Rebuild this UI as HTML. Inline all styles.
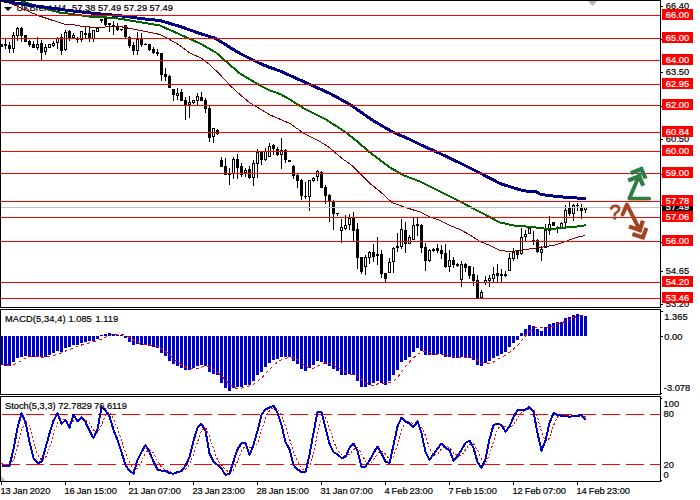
<!DOCTYPE html>
<html lang="en"><head><meta charset="utf-8"><title>UKBrent H4 chart</title>
<style>
html,body{margin:0;padding:0;background:#fff;}
body{width:700px;height:500px;overflow:hidden;}
svg{display:block;}
text{font-family:"Liberation Sans",sans-serif;font-size:9.3px;fill:#000;stroke:#000;stroke-width:0.2px;}
.w{fill:#fff;stroke:#fff;}
.crisp{shape-rendering:crispEdges;}
</style></head><body>
<svg width="700" height="500" viewBox="0 0 700 500">
<rect x="0" y="0" width="700" height="500" fill="#fff"/>
<g class="crisp" id="candles">
<rect x="1" y="44" width="1" height="3" fill="#000"/><rect x="0" y="44" width="3" height="3" fill="#000"/>
<rect x="5" y="39" width="1" height="10" fill="#000"/><rect x="4" y="44" width="3" height="2" fill="#000"/>
<rect x="9" y="42" width="1" height="11" fill="#000"/><rect x="8" y="45" width="3" height="4" fill="#000"/>
<rect x="13" y="32" width="1" height="21" fill="#000"/><rect x="12" y="35" width="3" height="14" fill="#000"/><rect x="13" y="36" width="1" height="12" fill="#fff"/>
<rect x="17" y="27" width="1" height="14" fill="#000"/><rect x="16" y="28" width="3" height="8" fill="#000"/><rect x="17" y="29" width="1" height="6" fill="#fff"/>
<rect x="21" y="27" width="1" height="15" fill="#000"/><rect x="20" y="28" width="3" height="8" fill="#000"/>
<rect x="25" y="35" width="1" height="7" fill="#000"/><rect x="24" y="35" width="3" height="7" fill="#000"/>
<rect x="29" y="40" width="1" height="7" fill="#000"/><rect x="28" y="41" width="3" height="4" fill="#000"/>
<rect x="33" y="41" width="1" height="7" fill="#000"/><rect x="32" y="44" width="3" height="4" fill="#000"/>
<rect x="37" y="37" width="1" height="13" fill="#000"/><rect x="36" y="44" width="3" height="4" fill="#000"/><rect x="37" y="45" width="1" height="2" fill="#fff"/>
<rect x="41" y="40" width="1" height="21" fill="#000"/><rect x="40" y="43" width="3" height="10" fill="#000"/>
<rect x="45" y="44" width="1" height="11" fill="#000"/><rect x="44" y="47" width="3" height="5" fill="#000"/><rect x="45" y="48" width="1" height="3" fill="#fff"/>
<rect x="49" y="44" width="1" height="4" fill="#000"/><rect x="48" y="44" width="3" height="4" fill="#000"/><rect x="49" y="45" width="1" height="2" fill="#fff"/>
<rect x="53" y="41" width="1" height="6" fill="#000"/><rect x="52" y="43" width="3" height="3" fill="#000"/><rect x="53" y="44" width="1" height="1" fill="#fff"/>
<rect x="57" y="37" width="1" height="12" fill="#000"/><rect x="56" y="38" width="3" height="5" fill="#000"/><rect x="57" y="39" width="1" height="3" fill="#fff"/>
<rect x="61" y="34" width="1" height="21" fill="#000"/><rect x="60" y="37" width="3" height="14" fill="#000"/>
<rect x="65" y="30" width="1" height="21" fill="#000"/><rect x="64" y="32" width="3" height="18" fill="#000"/><rect x="65" y="33" width="1" height="16" fill="#fff"/>
<rect x="69" y="30" width="1" height="11" fill="#000"/><rect x="68" y="31" width="3" height="7" fill="#000"/>
<rect x="73" y="33" width="1" height="5" fill="#000"/><rect x="72" y="35" width="3" height="3" fill="#000"/><rect x="73" y="36" width="1" height="1" fill="#fff"/>
<rect x="77" y="37" width="1" height="6" fill="#000"/><rect x="76" y="39" width="3" height="1" fill="#000"/>
<rect x="81" y="31" width="1" height="11" fill="#000"/><rect x="80" y="31" width="3" height="9" fill="#000"/><rect x="81" y="32" width="1" height="7" fill="#fff"/>
<rect x="85" y="27" width="1" height="11" fill="#000"/><rect x="84" y="33" width="3" height="2" fill="#000"/>
<rect x="89" y="27" width="1" height="15" fill="#000"/><rect x="88" y="33" width="3" height="5" fill="#000"/>
<rect x="93" y="30" width="1" height="12" fill="#000"/><rect x="92" y="30" width="3" height="9" fill="#000"/><rect x="93" y="31" width="1" height="7" fill="#fff"/>
<rect x="97" y="27" width="1" height="5" fill="#000"/><rect x="96" y="28" width="3" height="4" fill="#000"/><rect x="97" y="29" width="1" height="2" fill="#fff"/>
<rect x="101" y="19" width="1" height="4" fill="#000"/><rect x="100" y="19" width="3" height="2" fill="#000"/>
<rect x="105" y="18" width="1" height="8" fill="#000"/><rect x="104" y="18" width="3" height="7" fill="#000"/>
<rect x="109" y="23" width="1" height="9" fill="#000"/><rect x="108" y="23" width="3" height="2" fill="#000"/>
<rect x="113" y="21" width="1" height="14" fill="#000"/><rect x="112" y="25" width="3" height="1" fill="#000"/>
<rect x="117" y="23" width="1" height="8" fill="#000"/><rect x="116" y="26" width="3" height="4" fill="#000"/>
<rect x="121" y="29" width="1" height="2" fill="#000"/><rect x="120" y="29" width="3" height="1" fill="#000"/>
<rect x="125" y="25" width="1" height="13" fill="#000"/><rect x="124" y="25" width="3" height="12" fill="#000"/>
<rect x="129" y="36" width="1" height="12" fill="#000"/><rect x="128" y="37" width="3" height="9" fill="#000"/>
<rect x="133" y="42" width="1" height="13" fill="#000"/><rect x="132" y="45" width="3" height="6" fill="#000"/>
<rect x="137" y="32" width="1" height="23" fill="#000"/><rect x="136" y="39" width="3" height="12" fill="#000"/><rect x="137" y="40" width="1" height="10" fill="#fff"/>
<rect x="141" y="33" width="1" height="14" fill="#000"/><rect x="140" y="39" width="3" height="6" fill="#000"/>
<rect x="145" y="43" width="1" height="2" fill="#000"/><rect x="144" y="44" width="3" height="1" fill="#000"/>
<rect x="149" y="44" width="1" height="7" fill="#000"/><rect x="148" y="44" width="3" height="6" fill="#000"/>
<rect x="153" y="47" width="1" height="7" fill="#000"/><rect x="152" y="49" width="3" height="4" fill="#000"/>
<rect x="157" y="49" width="1" height="7" fill="#000"/><rect x="156" y="52" width="3" height="2" fill="#000"/>
<rect x="161" y="53" width="1" height="28" fill="#000"/><rect x="160" y="53" width="3" height="22" fill="#000"/>
<rect x="165" y="68" width="1" height="13" fill="#000"/><rect x="164" y="74" width="3" height="3" fill="#000"/>
<rect x="169" y="75" width="1" height="13" fill="#000"/><rect x="168" y="76" width="3" height="12" fill="#000"/>
<rect x="173" y="89" width="1" height="12" fill="#000"/><rect x="172" y="89" width="3" height="6" fill="#000"/>
<rect x="177" y="88" width="1" height="12" fill="#000"/><rect x="176" y="93" width="3" height="3" fill="#000"/><rect x="177" y="94" width="1" height="1" fill="#fff"/>
<rect x="181" y="89" width="1" height="12" fill="#000"/><rect x="180" y="92" width="3" height="9" fill="#000"/>
<rect x="185" y="97" width="1" height="23" fill="#000"/><rect x="184" y="100" width="3" height="5" fill="#000"/>
<rect x="189" y="96" width="1" height="22" fill="#000"/><rect x="188" y="102" width="3" height="3" fill="#000"/><rect x="189" y="103" width="1" height="1" fill="#fff"/>
<rect x="193" y="100" width="1" height="4" fill="#000"/><rect x="192" y="100" width="3" height="3" fill="#000"/><rect x="193" y="101" width="1" height="1" fill="#fff"/>
<rect x="197" y="93" width="1" height="12" fill="#000"/><rect x="196" y="96" width="3" height="5" fill="#000"/><rect x="197" y="97" width="1" height="3" fill="#fff"/>
<rect x="201" y="92" width="1" height="9" fill="#000"/><rect x="200" y="97" width="3" height="4" fill="#000"/>
<rect x="205" y="98" width="1" height="15" fill="#000"/><rect x="204" y="100" width="3" height="9" fill="#000"/>
<rect x="209" y="106" width="1" height="36" fill="#000"/><rect x="208" y="108" width="3" height="30" fill="#000"/>
<rect x="213" y="128" width="1" height="15" fill="#000"/><rect x="212" y="128" width="3" height="9" fill="#000"/><rect x="213" y="129" width="1" height="7" fill="#fff"/>
<rect x="217" y="129" width="1" height="6" fill="#000"/><rect x="216" y="130" width="3" height="4" fill="#000"/>
<rect x="221" y="157" width="1" height="10" fill="#000"/><rect x="220" y="160" width="3" height="7" fill="#000"/>
<rect x="225" y="158" width="1" height="17" fill="#000"/><rect x="224" y="166" width="3" height="9" fill="#000"/>
<rect x="229" y="168" width="1" height="17" fill="#000"/><rect x="228" y="173" width="3" height="2" fill="#000"/>
<rect x="233" y="157" width="1" height="22" fill="#000"/><rect x="232" y="159" width="3" height="15" fill="#000"/><rect x="233" y="160" width="1" height="13" fill="#fff"/>
<rect x="237" y="154" width="1" height="25" fill="#000"/><rect x="236" y="159" width="3" height="9" fill="#000"/>
<rect x="241" y="163" width="1" height="14" fill="#000"/><rect x="240" y="166" width="3" height="9" fill="#000"/>
<rect x="245" y="168" width="1" height="9" fill="#000"/><rect x="244" y="170" width="3" height="3" fill="#000"/><rect x="245" y="171" width="1" height="1" fill="#fff"/>
<rect x="249" y="166" width="1" height="13" fill="#000"/><rect x="248" y="169" width="3" height="9" fill="#000"/>
<rect x="253" y="160" width="1" height="26" fill="#000"/><rect x="252" y="163" width="3" height="15" fill="#000"/><rect x="253" y="164" width="1" height="13" fill="#fff"/>
<rect x="257" y="149" width="1" height="29" fill="#000"/><rect x="256" y="152" width="3" height="12" fill="#000"/><rect x="257" y="153" width="1" height="10" fill="#fff"/>
<rect x="261" y="152" width="1" height="13" fill="#000"/><rect x="260" y="152" width="3" height="8" fill="#000"/>
<rect x="265" y="148" width="1" height="13" fill="#000"/><rect x="264" y="151" width="3" height="9" fill="#000"/><rect x="265" y="152" width="1" height="7" fill="#fff"/>
<rect x="269" y="143" width="1" height="14" fill="#000"/><rect x="268" y="146" width="3" height="11" fill="#000"/><rect x="269" y="147" width="1" height="9" fill="#fff"/>
<rect x="273" y="144" width="1" height="11" fill="#000"/><rect x="272" y="145" width="3" height="4" fill="#000"/>
<rect x="277" y="147" width="1" height="9" fill="#000"/><rect x="276" y="149" width="3" height="6" fill="#000"/>
<rect x="281" y="138" width="1" height="31" fill="#000"/><rect x="280" y="150" width="3" height="5" fill="#000"/><rect x="281" y="151" width="1" height="3" fill="#fff"/>
<rect x="285" y="149" width="1" height="14" fill="#000"/><rect x="284" y="150" width="3" height="10" fill="#000"/>
<rect x="289" y="160" width="1" height="2" fill="#000"/><rect x="288" y="160" width="3" height="2" fill="#000"/>
<rect x="293" y="165" width="1" height="14" fill="#000"/><rect x="292" y="166" width="3" height="10" fill="#000"/>
<rect x="297" y="174" width="1" height="14" fill="#000"/><rect x="296" y="175" width="3" height="6" fill="#000"/>
<rect x="301" y="179" width="1" height="21" fill="#000"/><rect x="300" y="180" width="3" height="16" fill="#000"/>
<rect x="305" y="182" width="1" height="17" fill="#000"/><rect x="304" y="196" width="3" height="1" fill="#000"/>
<rect x="309" y="180" width="1" height="31" fill="#000"/><rect x="308" y="180" width="3" height="17" fill="#000"/><rect x="309" y="181" width="1" height="15" fill="#fff"/>
<rect x="313" y="177" width="1" height="5" fill="#000"/><rect x="312" y="178" width="3" height="3" fill="#000"/><rect x="313" y="179" width="1" height="1" fill="#fff"/>
<rect x="317" y="170" width="1" height="11" fill="#000"/><rect x="316" y="171" width="3" height="6" fill="#000"/><rect x="317" y="172" width="1" height="4" fill="#fff"/>
<rect x="321" y="171" width="1" height="17" fill="#000"/><rect x="320" y="172" width="3" height="16" fill="#000"/>
<rect x="325" y="185" width="1" height="19" fill="#000"/><rect x="324" y="187" width="3" height="9" fill="#000"/>
<rect x="329" y="194" width="1" height="28" fill="#000"/><rect x="328" y="195" width="3" height="6" fill="#000"/>
<rect x="333" y="200" width="1" height="30" fill="#000"/><rect x="332" y="201" width="3" height="13" fill="#000"/>
<rect x="337" y="213" width="1" height="3" fill="#000"/><rect x="336" y="213" width="3" height="1" fill="#000"/>
<rect x="341" y="219" width="1" height="24" fill="#000"/><rect x="340" y="227" width="3" height="4" fill="#000"/><rect x="341" y="228" width="1" height="2" fill="#fff"/>
<rect x="345" y="215" width="1" height="15" fill="#000"/><rect x="344" y="225" width="3" height="4" fill="#000"/><rect x="345" y="226" width="1" height="2" fill="#fff"/>
<rect x="349" y="214" width="1" height="16" fill="#000"/><rect x="348" y="218" width="3" height="7" fill="#000"/><rect x="349" y="219" width="1" height="5" fill="#fff"/>
<rect x="353" y="212" width="1" height="30" fill="#000"/><rect x="352" y="218" width="3" height="13" fill="#000"/>
<rect x="357" y="223" width="1" height="46" fill="#000"/><rect x="356" y="229" width="3" height="29" fill="#000"/>
<rect x="361" y="257" width="1" height="17" fill="#000"/><rect x="360" y="257" width="3" height="15" fill="#000"/>
<rect x="365" y="255" width="1" height="20" fill="#000"/><rect x="364" y="257" width="3" height="10" fill="#000"/><rect x="365" y="258" width="1" height="8" fill="#fff"/>
<rect x="369" y="251" width="1" height="13" fill="#000"/><rect x="368" y="252" width="3" height="6" fill="#000"/><rect x="369" y="253" width="1" height="4" fill="#fff"/>
<rect x="373" y="244" width="1" height="18" fill="#000"/><rect x="372" y="252" width="3" height="5" fill="#000"/>
<rect x="377" y="237" width="1" height="28" fill="#000"/><rect x="376" y="254" width="3" height="2" fill="#000"/>
<rect x="381" y="250" width="1" height="28" fill="#000"/><rect x="380" y="254" width="3" height="20" fill="#000"/>
<rect x="385" y="273" width="1" height="9" fill="#000"/><rect x="384" y="273" width="3" height="6" fill="#000"/>
<rect x="389" y="258" width="1" height="15" fill="#000"/><rect x="388" y="262" width="3" height="11" fill="#000"/><rect x="389" y="263" width="1" height="9" fill="#fff"/>
<rect x="393" y="247" width="1" height="26" fill="#000"/><rect x="392" y="248" width="3" height="14" fill="#000"/><rect x="393" y="249" width="1" height="12" fill="#fff"/>
<rect x="397" y="233" width="1" height="19" fill="#000"/><rect x="396" y="246" width="3" height="2" fill="#000"/>
<rect x="401" y="219" width="1" height="30" fill="#000"/><rect x="400" y="229" width="3" height="18" fill="#000"/><rect x="401" y="230" width="1" height="16" fill="#fff"/>
<rect x="405" y="222" width="1" height="31" fill="#000"/><rect x="404" y="230" width="3" height="14" fill="#000"/>
<rect x="409" y="235" width="1" height="9" fill="#000"/><rect x="408" y="237" width="3" height="7" fill="#000"/><rect x="409" y="238" width="1" height="5" fill="#fff"/>
<rect x="413" y="218" width="1" height="22" fill="#000"/><rect x="412" y="225" width="3" height="15" fill="#000"/><rect x="413" y="226" width="1" height="13" fill="#fff"/>
<rect x="417" y="218" width="1" height="18" fill="#000"/><rect x="416" y="224" width="3" height="2" fill="#000"/>
<rect x="421" y="224" width="1" height="29" fill="#000"/><rect x="420" y="225" width="3" height="23" fill="#000"/>
<rect x="425" y="243" width="1" height="28" fill="#000"/><rect x="424" y="247" width="3" height="14" fill="#000"/>
<rect x="429" y="249" width="1" height="13" fill="#000"/><rect x="428" y="250" width="3" height="11" fill="#000"/><rect x="429" y="251" width="1" height="9" fill="#fff"/>
<rect x="433" y="248" width="1" height="4" fill="#000"/><rect x="432" y="249" width="3" height="2" fill="#000"/>
<rect x="437" y="244" width="1" height="9" fill="#000"/><rect x="436" y="248" width="3" height="3" fill="#000"/>
<rect x="441" y="245" width="1" height="14" fill="#000"/><rect x="440" y="250" width="3" height="4" fill="#000"/>
<rect x="445" y="244" width="1" height="24" fill="#000"/><rect x="444" y="253" width="3" height="14" fill="#000"/>
<rect x="449" y="250" width="1" height="22" fill="#000"/><rect x="448" y="260" width="3" height="7" fill="#000"/><rect x="449" y="261" width="1" height="5" fill="#fff"/>
<rect x="453" y="257" width="1" height="11" fill="#000"/><rect x="452" y="260" width="3" height="5" fill="#000"/>
<rect x="457" y="263" width="1" height="4" fill="#000"/><rect x="456" y="264" width="3" height="2" fill="#000"/>
<rect x="461" y="261" width="1" height="26" fill="#000"/><rect x="460" y="264" width="3" height="16" fill="#000"/><rect x="461" y="265" width="1" height="14" fill="#fff"/>
<rect x="465" y="263" width="1" height="9" fill="#000"/><rect x="464" y="264" width="3" height="4" fill="#000"/>
<rect x="469" y="266" width="1" height="13" fill="#000"/><rect x="468" y="266" width="3" height="10" fill="#000"/>
<rect x="473" y="267" width="1" height="19" fill="#000"/><rect x="472" y="274" width="3" height="7" fill="#000"/>
<rect x="477" y="275" width="1" height="23" fill="#000"/><rect x="476" y="280" width="3" height="18" fill="#000"/>
<rect x="481" y="290" width="1" height="8" fill="#000"/><rect x="480" y="292" width="3" height="6" fill="#000"/><rect x="481" y="293" width="1" height="4" fill="#fff"/>
<rect x="485" y="276" width="1" height="9" fill="#000"/><rect x="484" y="280" width="3" height="3" fill="#000"/><rect x="485" y="281" width="1" height="1" fill="#fff"/>
<rect x="489" y="275" width="1" height="12" fill="#000"/><rect x="488" y="278" width="3" height="3" fill="#000"/><rect x="489" y="279" width="1" height="1" fill="#fff"/>
<rect x="493" y="267" width="1" height="15" fill="#000"/><rect x="492" y="274" width="3" height="5" fill="#000"/><rect x="493" y="275" width="1" height="3" fill="#fff"/>
<rect x="497" y="264" width="1" height="18" fill="#000"/><rect x="496" y="273" width="3" height="3" fill="#000"/>
<rect x="501" y="269" width="1" height="13" fill="#000"/><rect x="500" y="274" width="3" height="2" fill="#000"/>
<rect x="505" y="271" width="1" height="6" fill="#000"/><rect x="504" y="274" width="3" height="2" fill="#000"/>
<rect x="509" y="253" width="1" height="18" fill="#000"/><rect x="508" y="258" width="3" height="13" fill="#000"/><rect x="509" y="259" width="1" height="11" fill="#fff"/>
<rect x="513" y="248" width="1" height="13" fill="#000"/><rect x="512" y="252" width="3" height="7" fill="#000"/><rect x="513" y="253" width="1" height="5" fill="#fff"/>
<rect x="517" y="251" width="1" height="8" fill="#000"/><rect x="516" y="251" width="3" height="4" fill="#000"/>
<rect x="521" y="228" width="1" height="27" fill="#000"/><rect x="520" y="237" width="3" height="17" fill="#000"/><rect x="521" y="238" width="1" height="15" fill="#fff"/>
<rect x="525" y="230" width="1" height="11" fill="#000"/><rect x="524" y="234" width="3" height="3" fill="#000"/><rect x="525" y="235" width="1" height="1" fill="#fff"/>
<rect x="529" y="227" width="1" height="7" fill="#000"/><rect x="528" y="228" width="3" height="6" fill="#000"/><rect x="529" y="229" width="1" height="4" fill="#fff"/>
<rect x="533" y="231" width="1" height="14" fill="#000"/><rect x="532" y="240" width="3" height="2" fill="#000"/>
<rect x="537" y="239" width="1" height="14" fill="#000"/><rect x="536" y="240" width="3" height="12" fill="#000"/>
<rect x="541" y="246" width="1" height="15" fill="#000"/><rect x="540" y="249" width="3" height="4" fill="#000"/><rect x="541" y="250" width="1" height="2" fill="#fff"/>
<rect x="545" y="224" width="1" height="24" fill="#000"/><rect x="544" y="230" width="3" height="18" fill="#000"/><rect x="545" y="231" width="1" height="16" fill="#fff"/>
<rect x="549" y="216" width="1" height="19" fill="#000"/><rect x="548" y="224" width="3" height="7" fill="#000"/><rect x="549" y="225" width="1" height="5" fill="#fff"/>
<rect x="553" y="222" width="1" height="4" fill="#000"/><rect x="552" y="222" width="3" height="4" fill="#000"/>
<rect x="557" y="226" width="1" height="7" fill="#000"/><rect x="556" y="228" width="3" height="1" fill="#000"/>
<rect x="561" y="222" width="1" height="6" fill="#000"/><rect x="560" y="223" width="3" height="5" fill="#000"/><rect x="561" y="224" width="1" height="3" fill="#fff"/>
<rect x="565" y="205" width="1" height="22" fill="#000"/><rect x="564" y="210" width="3" height="13" fill="#000"/><rect x="565" y="211" width="1" height="11" fill="#fff"/>
<rect x="569" y="202" width="1" height="14" fill="#000"/><rect x="568" y="208" width="3" height="6" fill="#000"/>
<rect x="573" y="204" width="1" height="17" fill="#000"/><rect x="572" y="205" width="3" height="9" fill="#000"/><rect x="573" y="206" width="1" height="7" fill="#fff"/>
<rect x="577" y="203" width="1" height="8" fill="#000"/><rect x="576" y="205" width="3" height="1" fill="#000"/>
<rect x="581" y="204" width="1" height="15" fill="#000"/><rect x="580" y="208" width="3" height="3" fill="#000"/>
<rect x="585" y="207" width="1" height="6" fill="#000"/><rect x="584" y="207" width="3" height="3" fill="#000"/><rect x="585" y="208" width="1" height="1" fill="#fff"/>
</g>
<polygon points="4,7 12,7 8,11" fill="#000"/>
<text y="11.3"><tspan x="16.6">UKBrent,H4</tspan><tspan x="72.1">57.38</tspan><tspan x="97.9">57.49</tspan><tspan x="123.8">57.29</tspan><tspan x="149.6">57.49</tspan></text>
<g id="ma" clip-path="url(#mc)">
<clipPath id="mc"><rect x="1" y="1" width="659" height="306"/></clipPath>
<polyline class="crisp" points="5.0,-0.5 7.0,1.5 20.0,7.5 38.0,15.5 50.0,19.5 64.0,24.0 70.0,24.0 80.0,26.0 90.0,27.0 105.0,27.0 120.0,26.5 130.0,28.5 140.0,30.3 155.0,33.5 160.0,34.5 168.0,38.5 180.0,45.5 190.0,53.0 202.0,58.5 210.0,65.0 220.0,74.5 230.0,85.5 241.0,95.5 250.0,103.0 270.0,114.9 290.0,123.5 304.0,133.5 320.0,141.5 330.0,148.0 339.0,156.0 345.0,160.5 352.0,165.5 360.0,173.5 370.0,183.5 380.0,191.5 392.0,202.5 404.0,206.9 420.0,212.1 430.0,217.0 438.0,219.5 450.0,225.5 460.0,229.5 470.0,235.0 480.0,241.5 490.0,245.5 500.0,250.5 505.0,251.0 515.0,251.0 526.0,249.5 540.0,247.5 555.0,245.0 560.0,243.5 576.0,237.5 585.0,235.5" fill="none" stroke="#800000" stroke-width="1" stroke-linejoin="round"/>
<polyline class="crisp" points="20.0,-0.5 22.0,1.3 40.0,7.1 60.0,12.6 70.0,13.7 90.0,16.7 105.0,17.3 120.0,18.7 130.0,20.5 140.0,22.1 160.0,25.5 180.0,34.5 200.0,43.5 216.0,52.5 226.0,61.5 240.0,73.5 260.0,85.5 270.0,90.5 280.0,94.0 290.0,99.5 304.0,108.5 326.0,119.5 340.0,128.5 346.0,132.5 356.0,140.5 370.0,152.5 390.0,167.5 404.0,175.5 420.0,181.5 436.0,189.5 460.0,201.5 480.0,212.0 500.0,222.5 512.0,225.1 516.0,226.1 530.0,226.7 537.0,227.7 544.0,228.5 556.0,228.5 566.0,227.5 574.0,226.9 580.0,226.1 586.0,225.3" fill="none" stroke="#006400" stroke-width="2" stroke-linejoin="round"/>
<polyline class="crisp" points="0.0,-1.0 3.0,0.8 14.0,2.9 29.0,5.1 43.0,6.9 57.0,9.0 71.0,10.8 86.0,12.5 100.0,13.9 120.0,15.7 130.0,17.0 140.0,18.5 160.0,20.5 180.0,26.5 200.0,33.5 216.0,38.5 230.0,47.5 240.0,53.5 260.0,63.5 270.0,67.5 280.0,71.0 290.0,75.5 310.0,84.5 330.0,93.5 350.0,104.5 370.0,118.5 373.0,120.5 390.0,130.5 394.0,132.5 410.0,139.5 420.0,144.5 440.0,153.5 460.0,163.0 480.0,173.0 500.0,183.5 509.0,186.4 519.0,189.5 528.0,191.5 536.0,191.8 541.0,194.5 551.0,195.8 560.0,196.7 568.0,197.6 577.0,198.0 582.0,198.9 586.4,198.9" fill="none" stroke="#000080" stroke-width="3" stroke-linejoin="round"/>
</g>
<g class="crisp" id="levels">
<rect x="1" y="207" width="659" height="1" fill="#c0c0c0"/>
<rect x="1" y="15" width="659" height="1" fill="#ff0000"/>
<rect x="1" y="38" width="659" height="1" fill="#ff0000"/>
<rect x="1" y="60" width="659" height="1" fill="#ff0000"/>
<rect x="1" y="84" width="659" height="1" fill="#ff0000"/>
<rect x="1" y="105" width="659" height="1" fill="#ff0000"/>
<rect x="1" y="132" width="659" height="1" fill="#ff0000"/>
<rect x="1" y="151" width="659" height="1" fill="#ff0000"/>
<rect x="1" y="173" width="659" height="1" fill="#ff0000"/>
<rect x="1" y="201" width="659" height="1" fill="#ff0000"/>
<rect x="1" y="217" width="659" height="1" fill="#ff0000"/>
<rect x="1" y="241" width="659" height="1" fill="#ff0000"/>
<rect x="1" y="282" width="659" height="1" fill="#ff0000"/>
<rect x="1" y="298" width="659" height="1" fill="#ff0000"/>
</g>
<polygon points="588,1 597,1 592.5,6" fill="#b4b4b4"/>
<g id="arrows" fill="none" stroke-linecap="round" stroke-linejoin="miter">
<path d="M649.2,198.6 L629.4,198.6 L639.6,174.6" stroke="#2e7d46" stroke-width="3.9" stroke-linejoin="round"/>
<path d="M628.2,180.5 L639.2,176.2 L643.2,185.8" stroke="#2e7d46" stroke-width="4.2" stroke-linecap="butt"/>
<path d="M630.8,173.3 L641.3,169 L645.6,178.5" stroke="#2e7d46" stroke-width="4.2" stroke-linecap="butt"/>
<path d="M622.6,214.6 L626.9,204.6 L640,230.5" stroke="#a24423" stroke-width="3.9" stroke-linejoin="round"/>
<path d="M629,226.6 L639.9,230.2 L642.9,220.6" stroke="#a24423" stroke-width="4.2" stroke-linecap="butt"/>
<path d="M632.4,234 L642.9,237.4 L646.4,228" stroke="#a24423" stroke-width="4.2" stroke-linecap="butt"/>
</g>
<text x="609.6" y="218.6" style="font-size:20px;fill:#a24423;stroke:#a24423;stroke-width:0.9px">?</text>
<g class="crisp" id="frames" fill="#000">
<rect x="0" y="0" width="661" height="1"/><rect x="0" y="307" width="661" height="1"/><rect x="0" y="0" width="1" height="308"/><rect x="660" y="0" width="1" height="308"/>
<rect x="0" y="309" width="661" height="1"/><rect x="0" y="394" width="661" height="1"/><rect x="0" y="309" width="1" height="86"/><rect x="660" y="309" width="1" height="86"/>
<rect x="0" y="396" width="661" height="1"/><rect x="0" y="481" width="661" height="1"/><rect x="0" y="396" width="1" height="86"/><rect x="660" y="396" width="1" height="86"/>
</g>
<g class="crisp" id="macd">
<rect x="1" y="336" width="2" height="29" fill="#0000cd"/><rect x="4" y="336" width="3" height="30" fill="#0000cd"/><rect x="8" y="336" width="3" height="30" fill="#0000cd"/><rect x="12" y="336" width="3" height="26" fill="#0000cd"/><rect x="16" y="336" width="3" height="22" fill="#0000cd"/><rect x="20" y="336" width="3" height="21" fill="#0000cd"/><rect x="24" y="336" width="3" height="20" fill="#0000cd"/><rect x="28" y="336" width="3" height="21" fill="#0000cd"/><rect x="32" y="336" width="3" height="21" fill="#0000cd"/><rect x="36" y="336" width="3" height="21" fill="#0000cd"/><rect x="40" y="336" width="3" height="21" fill="#0000cd"/><rect x="44" y="336" width="3" height="21" fill="#0000cd"/><rect x="48" y="336" width="3" height="19" fill="#0000cd"/><rect x="52" y="336" width="3" height="17" fill="#0000cd"/><rect x="56" y="336" width="3" height="15" fill="#0000cd"/><rect x="60" y="336" width="3" height="16" fill="#0000cd"/><rect x="64" y="336" width="3" height="12" fill="#0000cd"/><rect x="68" y="336" width="3" height="11" fill="#0000cd"/><rect x="72" y="336" width="3" height="9" fill="#0000cd"/><rect x="76" y="336" width="3" height="9" fill="#0000cd"/><rect x="80" y="336" width="3" height="7" fill="#0000cd"/><rect x="84" y="336" width="3" height="6" fill="#0000cd"/><rect x="88" y="336" width="3" height="5" fill="#0000cd"/><rect x="92" y="336" width="3" height="5" fill="#0000cd"/><rect x="96" y="336" width="3" height="3" fill="#0000cd"/><rect x="100" y="335" width="3" height="1" fill="#0000cd"/><rect x="104" y="334" width="3" height="2" fill="#0000cd"/><rect x="108" y="333" width="3" height="3" fill="#0000cd"/><rect x="112" y="334" width="3" height="2" fill="#0000cd"/><rect x="116" y="335" width="3" height="1" fill="#0000cd"/><rect x="120" y="335" width="3" height="1" fill="#0000cd"/><rect x="124" y="336" width="3" height="2" fill="#0000cd"/><rect x="128" y="336" width="3" height="6" fill="#0000cd"/><rect x="132" y="336" width="3" height="9" fill="#0000cd"/><rect x="136" y="336" width="3" height="8" fill="#0000cd"/><rect x="140" y="336" width="3" height="9" fill="#0000cd"/><rect x="144" y="336" width="3" height="9" fill="#0000cd"/><rect x="148" y="336" width="3" height="10" fill="#0000cd"/><rect x="152" y="336" width="3" height="11" fill="#0000cd"/><rect x="156" y="336" width="3" height="12" fill="#0000cd"/><rect x="160" y="336" width="3" height="17" fill="#0000cd"/><rect x="164" y="336" width="3" height="20" fill="#0000cd"/><rect x="168" y="336" width="3" height="25" fill="#0000cd"/><rect x="172" y="336" width="3" height="28" fill="#0000cd"/><rect x="176" y="336" width="3" height="30" fill="#0000cd"/><rect x="180" y="336" width="3" height="32" fill="#0000cd"/><rect x="184" y="336" width="3" height="34" fill="#0000cd"/><rect x="188" y="336" width="3" height="34" fill="#0000cd"/><rect x="192" y="336" width="3" height="32" fill="#0000cd"/><rect x="196" y="336" width="3" height="30" fill="#0000cd"/><rect x="200" y="336" width="3" height="29" fill="#0000cd"/><rect x="204" y="336" width="3" height="30" fill="#0000cd"/><rect x="208" y="336" width="3" height="36" fill="#0000cd"/><rect x="212" y="336" width="3" height="38" fill="#0000cd"/><rect x="216" y="336" width="3" height="39" fill="#0000cd"/><rect x="220" y="336" width="3" height="47" fill="#0000cd"/><rect x="224" y="336" width="3" height="52" fill="#0000cd"/><rect x="228" y="336" width="3" height="55" fill="#0000cd"/><rect x="232" y="336" width="3" height="52" fill="#0000cd"/><rect x="236" y="336" width="3" height="51" fill="#0000cd"/><rect x="240" y="336" width="3" height="51" fill="#0000cd"/><rect x="244" y="336" width="3" height="49" fill="#0000cd"/><rect x="248" y="336" width="3" height="49" fill="#0000cd"/><rect x="252" y="336" width="3" height="45" fill="#0000cd"/><rect x="256" y="336" width="3" height="39" fill="#0000cd"/><rect x="260" y="336" width="3" height="36" fill="#0000cd"/><rect x="264" y="336" width="3" height="31" fill="#0000cd"/><rect x="268" y="336" width="3" height="27" fill="#0000cd"/><rect x="272" y="336" width="3" height="24" fill="#0000cd"/><rect x="276" y="336" width="3" height="23" fill="#0000cd"/><rect x="280" y="336" width="3" height="21" fill="#0000cd"/><rect x="284" y="336" width="3" height="21" fill="#0000cd"/><rect x="288" y="336" width="3" height="21" fill="#0000cd"/><rect x="292" y="336" width="3" height="25" fill="#0000cd"/><rect x="296" y="336" width="3" height="28" fill="#0000cd"/><rect x="300" y="336" width="3" height="33" fill="#0000cd"/><rect x="304" y="336" width="3" height="35" fill="#0000cd"/><rect x="308" y="336" width="3" height="32" fill="#0000cd"/><rect x="312" y="336" width="3" height="29" fill="#0000cd"/><rect x="316" y="336" width="3" height="25" fill="#0000cd"/><rect x="320" y="336" width="3" height="26" fill="#0000cd"/><rect x="324" y="336" width="3" height="28" fill="#0000cd"/><rect x="328" y="336" width="3" height="30" fill="#0000cd"/><rect x="332" y="336" width="3" height="33" fill="#0000cd"/><rect x="336" y="336" width="3" height="35" fill="#0000cd"/><rect x="340" y="336" width="3" height="39" fill="#0000cd"/><rect x="344" y="336" width="3" height="39" fill="#0000cd"/><rect x="348" y="336" width="3" height="38" fill="#0000cd"/><rect x="352" y="336" width="3" height="39" fill="#0000cd"/><rect x="356" y="336" width="3" height="45" fill="#0000cd"/><rect x="360" y="336" width="3" height="51" fill="#0000cd"/><rect x="364" y="336" width="3" height="51" fill="#0000cd"/><rect x="368" y="336" width="3" height="49" fill="#0000cd"/><rect x="372" y="336" width="3" height="47" fill="#0000cd"/><rect x="376" y="336" width="3" height="45" fill="#0000cd"/><rect x="380" y="336" width="3" height="47" fill="#0000cd"/><rect x="384" y="336" width="3" height="49" fill="#0000cd"/><rect x="388" y="336" width="3" height="45" fill="#0000cd"/><rect x="392" y="336" width="3" height="39" fill="#0000cd"/><rect x="396" y="336" width="3" height="34" fill="#0000cd"/><rect x="400" y="336" width="3" height="26" fill="#0000cd"/><rect x="404" y="336" width="3" height="24" fill="#0000cd"/><rect x="408" y="336" width="3" height="21" fill="#0000cd"/><rect x="412" y="336" width="3" height="16" fill="#0000cd"/><rect x="416" y="336" width="3" height="12" fill="#0000cd"/><rect x="420" y="336" width="3" height="15" fill="#0000cd"/><rect x="424" y="336" width="3" height="19" fill="#0000cd"/><rect x="428" y="336" width="3" height="19" fill="#0000cd"/><rect x="432" y="336" width="3" height="19" fill="#0000cd"/><rect x="436" y="336" width="3" height="18" fill="#0000cd"/><rect x="440" y="336" width="3" height="18" fill="#0000cd"/><rect x="444" y="336" width="3" height="21" fill="#0000cd"/><rect x="448" y="336" width="3" height="21" fill="#0000cd"/><rect x="452" y="336" width="3" height="22" fill="#0000cd"/><rect x="456" y="336" width="3" height="22" fill="#0000cd"/><rect x="460" y="336" width="3" height="21" fill="#0000cd"/><rect x="464" y="336" width="3" height="21" fill="#0000cd"/><rect x="468" y="336" width="3" height="22" fill="#0000cd"/><rect x="472" y="336" width="3" height="24" fill="#0000cd"/><rect x="476" y="336" width="3" height="29" fill="#0000cd"/><rect x="480" y="336" width="3" height="30" fill="#0000cd"/><rect x="484" y="336" width="3" height="27" fill="#0000cd"/><rect x="488" y="336" width="3" height="25" fill="#0000cd"/><rect x="492" y="336" width="3" height="22" fill="#0000cd"/><rect x="496" y="336" width="3" height="20" fill="#0000cd"/><rect x="500" y="336" width="3" height="18" fill="#0000cd"/><rect x="504" y="336" width="3" height="16" fill="#0000cd"/><rect x="508" y="336" width="3" height="11" fill="#0000cd"/><rect x="512" y="336" width="3" height="7" fill="#0000cd"/><rect x="516" y="336" width="3" height="4" fill="#0000cd"/><rect x="520" y="333" width="3" height="3" fill="#0000cd"/><rect x="524" y="329" width="3" height="7" fill="#0000cd"/><rect x="528" y="325" width="3" height="11" fill="#0000cd"/><rect x="532" y="326" width="3" height="10" fill="#0000cd"/><rect x="536" y="329" width="3" height="7" fill="#0000cd"/><rect x="540" y="331" width="3" height="5" fill="#0000cd"/><rect x="544" y="327" width="3" height="9" fill="#0000cd"/><rect x="548" y="324" width="3" height="12" fill="#0000cd"/><rect x="552" y="323" width="3" height="13" fill="#0000cd"/><rect x="556" y="322" width="3" height="14" fill="#0000cd"/><rect x="560" y="322" width="3" height="14" fill="#0000cd"/><rect x="564" y="318" width="3" height="18" fill="#0000cd"/><rect x="568" y="317" width="3" height="19" fill="#0000cd"/><rect x="572" y="315" width="3" height="21" fill="#0000cd"/><rect x="576" y="314" width="3" height="22" fill="#0000cd"/><rect x="580" y="315" width="3" height="21" fill="#0000cd"/><rect x="584" y="316" width="3" height="20" fill="#0000cd"/>
</g>
<polyline class="crisp" points="1.5,364.0 5.5,364.6 9.5,365.4 13.5,364.8 17.5,363.0 21.5,360.8 25.5,358.2 29.5,357.0 33.5,356.8 37.5,356.8 41.5,357.0 45.5,357.0 49.5,356.5 53.5,355.5 57.5,354.0 61.5,352.8 65.5,351.0 69.5,349.5 73.5,348.0 77.5,346.2 81.5,345.0 85.5,343.8 89.5,342.8 93.5,341.8 97.5,340.8 101.5,339.0 105.5,337.2 109.5,335.2 113.5,334.0 117.5,334.0 121.5,334.2 125.5,335.5 129.5,337.5 133.5,340.0 137.5,342.2 141.5,344.0 145.5,344.8 149.5,345.0 153.5,345.8 157.5,346.5 161.5,348.5 165.5,351.0 169.5,354.5 173.5,358.5 177.5,361.8 181.5,364.8 185.5,367.0 189.5,368.5 193.5,369.0 197.5,368.5 201.5,367.2 205.5,366.2 209.5,367.2 213.5,369.2 217.5,371.8 221.5,376.0 225.5,380.0 229.5,384.2 233.5,387.5 237.5,388.5 241.5,388.2 245.5,386.8 249.5,386.0 253.5,384.5 257.5,381.5 261.5,378.2 265.5,373.8 269.5,369.2 273.5,365.5 277.5,362.2 281.5,359.8 285.5,358.2 289.5,357.5 293.5,358.0 297.5,359.8 301.5,362.8 305.5,366.2 309.5,368.0 313.5,368.2 317.5,366.2 321.5,364.0 325.5,363.0 329.5,363.2 333.5,365.2 337.5,367.5 341.5,370.2 345.5,372.5 349.5,373.8 353.5,374.8 357.5,376.2 361.5,379.2 365.5,382.5 369.5,385.0 373.5,385.5 377.5,384.0 381.5,383.0 385.5,383.0 389.5,382.5 393.5,381.0 397.5,377.8 401.5,372.0 405.5,366.8 409.5,362.2 413.5,357.8 417.5,354.2 421.5,352.0 425.5,351.5 429.5,352.2 433.5,354.0 437.5,354.8 441.5,354.5 445.5,355.0 449.5,355.5 453.5,356.5 457.5,357.5 461.5,357.5 465.5,357.5 469.5,357.5 473.5,358.0 477.5,360.0 481.5,362.2 485.5,363.5 489.5,363.8 493.5,362.0 497.5,359.5 501.5,357.2 505.5,355.0 509.5,352.2 513.5,349.0 517.5,345.5 521.5,340.8 525.5,336.2 529.5,331.8 533.5,328.2 537.5,327.2 541.5,327.8 545.5,328.2 549.5,327.8 553.5,326.2 557.5,324.0 561.5,322.8 565.5,321.2 569.5,319.8 573.5,318.0 577.5,316.0 581.5,315.2 585.5,315.0" fill="none" stroke="#ff0000" stroke-width="1" stroke-dasharray="3,3"/>
<text y="322"><tspan x="5" letter-spacing="0.1">MACD(5,34,4)</tspan><tspan x="68.5">1.085</tspan><tspan x="95.5">1.119</tspan></text>
<g class="crisp" id="stochlv">
<rect x="2" y="414" width="18" height="1" fill="#ff0000"/><rect x="26" y="414" width="18" height="1" fill="#ff0000"/><rect x="50" y="414" width="18" height="1" fill="#ff0000"/><rect x="74" y="414" width="18" height="1" fill="#ff0000"/><rect x="98" y="414" width="18" height="1" fill="#ff0000"/><rect x="122" y="414" width="18" height="1" fill="#ff0000"/><rect x="146" y="414" width="18" height="1" fill="#ff0000"/><rect x="170" y="414" width="18" height="1" fill="#ff0000"/><rect x="194" y="414" width="18" height="1" fill="#ff0000"/><rect x="218" y="414" width="18" height="1" fill="#ff0000"/><rect x="242" y="414" width="18" height="1" fill="#ff0000"/><rect x="266" y="414" width="18" height="1" fill="#ff0000"/><rect x="290" y="414" width="18" height="1" fill="#ff0000"/><rect x="314" y="414" width="18" height="1" fill="#ff0000"/><rect x="338" y="414" width="18" height="1" fill="#ff0000"/><rect x="362" y="414" width="18" height="1" fill="#ff0000"/><rect x="386" y="414" width="18" height="1" fill="#ff0000"/><rect x="410" y="414" width="18" height="1" fill="#ff0000"/><rect x="434" y="414" width="18" height="1" fill="#ff0000"/><rect x="458" y="414" width="18" height="1" fill="#ff0000"/><rect x="482" y="414" width="18" height="1" fill="#ff0000"/><rect x="506" y="414" width="18" height="1" fill="#ff0000"/><rect x="530" y="414" width="18" height="1" fill="#ff0000"/><rect x="554" y="414" width="18" height="1" fill="#ff0000"/><rect x="578" y="414" width="18" height="1" fill="#ff0000"/><rect x="602" y="414" width="18" height="1" fill="#ff0000"/><rect x="626" y="414" width="18" height="1" fill="#ff0000"/><rect x="650" y="414" width="10" height="1" fill="#ff0000"/><rect x="2" y="464" width="18" height="1" fill="#ff0000"/><rect x="26" y="464" width="18" height="1" fill="#ff0000"/><rect x="50" y="464" width="18" height="1" fill="#ff0000"/><rect x="74" y="464" width="18" height="1" fill="#ff0000"/><rect x="98" y="464" width="18" height="1" fill="#ff0000"/><rect x="122" y="464" width="18" height="1" fill="#ff0000"/><rect x="146" y="464" width="18" height="1" fill="#ff0000"/><rect x="170" y="464" width="18" height="1" fill="#ff0000"/><rect x="194" y="464" width="18" height="1" fill="#ff0000"/><rect x="218" y="464" width="18" height="1" fill="#ff0000"/><rect x="242" y="464" width="18" height="1" fill="#ff0000"/><rect x="266" y="464" width="18" height="1" fill="#ff0000"/><rect x="290" y="464" width="18" height="1" fill="#ff0000"/><rect x="314" y="464" width="18" height="1" fill="#ff0000"/><rect x="338" y="464" width="18" height="1" fill="#ff0000"/><rect x="362" y="464" width="18" height="1" fill="#ff0000"/><rect x="386" y="464" width="18" height="1" fill="#ff0000"/><rect x="410" y="464" width="18" height="1" fill="#ff0000"/><rect x="434" y="464" width="18" height="1" fill="#ff0000"/><rect x="458" y="464" width="18" height="1" fill="#ff0000"/><rect x="482" y="464" width="18" height="1" fill="#ff0000"/><rect x="506" y="464" width="18" height="1" fill="#ff0000"/><rect x="530" y="464" width="18" height="1" fill="#ff0000"/><rect x="554" y="464" width="18" height="1" fill="#ff0000"/><rect x="578" y="464" width="18" height="1" fill="#ff0000"/><rect x="602" y="464" width="18" height="1" fill="#ff0000"/><rect x="626" y="464" width="18" height="1" fill="#ff0000"/><rect x="650" y="464" width="10" height="1" fill="#ff0000"/>
</g>
<polyline class="crisp" points="1.5,463.3 5.5,464.0 9.5,464.7 13.5,460.3 17.5,447.7 21.5,430.1 25.5,421.0 29.5,425.7 33.5,440.7 37.5,454.3 41.5,461.0 45.5,457.7 49.5,447.9 53.5,434.1 57.5,422.5 61.5,419.2 65.5,419.1 69.5,423.9 73.5,420.9 77.5,421.2 81.5,417.7 85.5,420.2 89.5,423.3 93.5,430.3 97.5,432.7 101.5,424.8 105.5,415.7 109.5,411.4 113.5,419.0 117.5,428.8 121.5,440.7 125.5,452.4 129.5,462.6 133.5,469.8 137.5,468.1 141.5,461.9 145.5,452.4 149.5,449.7 153.5,452.8 157.5,461.0 161.5,467.2 165.5,470.3 169.5,471.6 173.5,472.5 177.5,473.0 181.5,472.2 185.5,469.6 189.5,464.6 193.5,454.5 197.5,441.9 201.5,430.8 205.5,427.5 209.5,436.1 213.5,448.6 217.5,460.0 221.5,465.0 225.5,469.5 229.5,472.4 233.5,470.0 237.5,461.4 241.5,451.3 245.5,445.3 249.5,447.2 253.5,447.8 257.5,443.6 261.5,430.2 265.5,418.3 269.5,410.6 273.5,407.5 277.5,408.7 281.5,414.5 285.5,426.7 289.5,438.8 293.5,452.1 297.5,461.2 301.5,468.8 305.5,471.2 309.5,466.4 313.5,453.3 317.5,433.3 321.5,419.0 325.5,417.4 329.5,427.9 333.5,441.2 337.5,450.0 341.5,454.8 345.5,456.4 349.5,454.3 353.5,449.5 357.5,447.4 361.5,453.7 365.5,461.4 369.5,464.7 373.5,460.1 377.5,453.4 381.5,451.1 385.5,453.9 389.5,459.4 393.5,456.6 397.5,444.9 401.5,429.7 405.5,421.8 409.5,420.9 413.5,424.0 417.5,424.0 421.5,427.1 425.5,435.5 429.5,448.3 433.5,455.5 437.5,454.3 441.5,448.8 445.5,446.7 449.5,447.2 453.5,452.9 457.5,455.7 461.5,455.7 465.5,449.8 469.5,444.5 473.5,443.8 477.5,450.2 481.5,459.3 485.5,463.1 489.5,455.5 493.5,441.2 497.5,429.4 501.5,424.6 505.5,426.9 509.5,427.7 513.5,425.1 517.5,417.9 521.5,412.5 525.5,410.0 529.5,408.9 533.5,409.6 537.5,417.3 541.5,431.9 545.5,441.4 549.5,438.1 553.5,425.6 557.5,417.0 561.5,414.6 565.5,415.5 569.5,416.1 573.5,416.2 577.5,416.3 581.5,415.7 585.5,417.0" fill="none" stroke="#ff0000" stroke-width="1" stroke-dasharray="2,2"/>
<polyline class="crisp" points="1.5,465.8 5.5,465.8 9.5,465.8 13.5,449.3 17.5,428.0 21.5,413.0 25.5,422.0 29.5,442.0 33.5,458.0 37.5,463.0 41.5,462.0 45.5,448.0 49.5,433.6 53.5,420.7 57.5,413.3 61.5,423.6 65.5,420.4 69.5,427.6 73.5,414.7 77.5,421.4 81.5,417.1 85.5,422.1 89.5,430.7 93.5,438.1 97.5,429.3 101.5,407.1 105.5,410.7 109.5,416.4 113.5,430.0 117.5,440.0 121.5,452.1 125.5,465.0 129.5,470.7 133.5,473.6 137.5,460.0 141.5,452.1 145.5,445.0 149.5,452.1 153.5,461.4 157.5,469.6 161.5,470.7 165.5,470.7 169.5,473.3 173.5,473.6 177.5,472.1 181.5,471.0 185.5,465.7 189.5,457.1 193.5,440.7 197.5,427.9 201.5,423.9 205.5,430.7 209.5,453.6 213.5,461.4 217.5,465.0 221.5,468.6 225.5,475.0 229.5,473.6 233.5,461.4 237.5,449.3 241.5,443.3 245.5,443.3 249.5,455.0 253.5,445.0 257.5,430.7 261.5,415.0 265.5,409.3 269.5,407.6 273.5,405.7 277.5,412.9 281.5,425.0 285.5,442.1 289.5,449.3 293.5,465.0 297.5,469.3 301.5,472.1 305.5,472.1 309.5,455.0 313.5,432.9 317.5,412.1 321.5,412.1 325.5,427.9 329.5,443.6 333.5,452.1 337.5,454.3 341.5,457.9 345.5,457.1 349.5,447.9 353.5,443.6 357.5,450.7 361.5,466.7 365.5,466.7 369.5,460.7 373.5,452.9 377.5,446.7 381.5,453.6 385.5,461.4 389.5,463.3 393.5,445.0 397.5,426.4 401.5,417.6 405.5,421.4 409.5,423.6 413.5,427.1 417.5,421.4 421.5,432.9 425.5,452.1 429.5,460.0 433.5,454.3 437.5,448.6 441.5,443.6 445.5,447.9 449.5,450.0 453.5,460.7 457.5,456.4 461.5,450.0 465.5,442.9 469.5,440.7 473.5,447.9 477.5,462.1 481.5,467.9 485.5,459.3 489.5,439.3 493.5,425.0 497.5,423.9 501.5,425.0 505.5,431.7 509.5,426.4 513.5,417.1 517.5,410.3 521.5,410.0 525.5,409.7 529.5,406.9 533.5,412.1 537.5,432.9 541.5,450.7 545.5,440.7 549.5,422.9 553.5,413.1 557.5,415.0 561.5,415.7 565.5,415.7 569.5,416.9 573.5,416.0 577.5,416.0 581.5,415.0 585.5,420.0" fill="none" stroke="#0000cd" stroke-width="2" stroke-linejoin="round"/>
<text y="409"><tspan x="5">Stoch(5,3,3)</tspan><tspan x="58.3">72.7829</tspan><tspan x="94">76.6119</tspan></text>
<polygon points="1,476 1,481 6,481" fill="#c0c0c0"/>
<g id="axis">
<rect class="crisp" x="661" y="6" width="2" height="1" fill="#000"/><text x="665.8" y="9.3">66.40</text>
<rect class="crisp" x="661" y="72" width="2" height="1" fill="#000"/><text x="665.8" y="75.3">63.50</text>
<rect class="crisp" x="661" y="139" width="2" height="1" fill="#000"/><text x="665.8" y="142.3">60.50</text>
<rect class="crisp" x="661" y="205" width="2" height="1" fill="#000"/><rect class="crisp" x="661" y="271" width="2" height="1" fill="#000"/><text x="665.8" y="273.8">54.65</text>
<rect class="crisp" x="661" y="304" width="2" height="1" fill="#000"/><text x="665.8" y="307.3">53.20</text>
<rect class="crisp" x="662" y="201" width="31" height="11" fill="#000"/><text class="w" x="665.8" y="210.0">57.49</text>
<rect class="crisp" x="662" y="9" width="31" height="11" fill="#ff0000"/><text class="w" x="665.8" y="17.7">66.00</text>
<rect class="crisp" x="661" y="39" width="1" height="1" fill="#000"/><rect class="crisp" x="662" y="32" width="31" height="11" fill="#ff0000"/><text class="w" x="665.8" y="40.7">65.00</text>
<rect class="crisp" x="662" y="54" width="31" height="11" fill="#ff0000"/><text class="w" x="665.8" y="62.7">64.00</text>
<rect class="crisp" x="662" y="78" width="31" height="11" fill="#ff0000"/><text class="w" x="665.8" y="86.7">62.95</text>
<rect class="crisp" x="661" y="106" width="1" height="1" fill="#000"/><rect class="crisp" x="662" y="99" width="31" height="11" fill="#ff0000"/><text class="w" x="665.8" y="107.7">62.00</text>
<rect class="crisp" x="662" y="126" width="31" height="11" fill="#ff0000"/><text class="w" x="665.8" y="134.7">60.84</text>
<rect class="crisp" x="662" y="145" width="31" height="11" fill="#ff0000"/><text class="w" x="665.8" y="153.7">60.00</text>
<rect class="crisp" x="661" y="174" width="1" height="1" fill="#000"/><rect class="crisp" x="662" y="167" width="31" height="11" fill="#ff0000"/><text class="w" x="665.8" y="175.7">59.00</text>
<rect class="crisp" x="662" y="195" width="31" height="11" fill="#ff0000"/><text class="w" x="665.8" y="203.7">57.78</text>
<rect class="crisp" x="662" y="211" width="31" height="11" fill="#ff0000"/><text class="w" x="665.8" y="219.7">57.06</text>
<rect class="crisp" x="661" y="242" width="1" height="1" fill="#000"/><rect class="crisp" x="662" y="235" width="31" height="11" fill="#ff0000"/><text class="w" x="665.8" y="243.7">56.00</text>
<rect class="crisp" x="662" y="276" width="31" height="11" fill="#ff0000"/><text class="w" x="665.8" y="284.7">54.20</text>
<rect class="crisp" x="662" y="292" width="31" height="11" fill="#ff0000"/><text class="w" x="665.8" y="300.7">53.46</text>
<rect class="crisp" x="661" y="311" width="2" height="1" fill="#000"/><rect class="crisp" x="661" y="336" width="2" height="1" fill="#000"/><rect class="crisp" x="661" y="393" width="1" height="1" fill="#000"/><rect class="crisp" x="661" y="398" width="1" height="1" fill="#000"/><rect class="crisp" x="661" y="480" width="1" height="1" fill="#000"/><text x="664.3" y="319.7">1.365</text>
<text x="664.3" y="339.7">0.00</text>
<text x="663.8" y="390.7">-3.078</text>
<text x="663.6" y="406.5">100</text>
<text x="663.6" y="417.3">80</text>
<text x="663.6" y="467.6">20</text>
<text x="663.6" y="477.6">0</text>
</g>
<g id="dates">
<rect class="crisp" x="1" y="482" width="1" height="3" fill="#000"/><text x="0.4" y="493.6" word-spacing="-0.6">13 Jan 2020</text>
<rect class="crisp" x="65" y="482" width="1" height="3" fill="#000"/><text x="64.4" y="493.6" word-spacing="-0.6">16 Jan 15:00</text>
<rect class="crisp" x="129" y="482" width="1" height="3" fill="#000"/><text x="128.4" y="493.6" word-spacing="-0.6">21 Jan 07:00</text>
<rect class="crisp" x="193" y="482" width="1" height="3" fill="#000"/><text x="192.4" y="493.6" word-spacing="-0.6">23 Jan 23:00</text>
<rect class="crisp" x="257" y="482" width="1" height="3" fill="#000"/><text x="256.4" y="493.6" word-spacing="-0.6">28 Jan 15:00</text>
<rect class="crisp" x="321" y="482" width="1" height="3" fill="#000"/><text x="320.4" y="493.6" word-spacing="-0.6">31 Jan 07:00</text>
<rect class="crisp" x="385" y="482" width="1" height="3" fill="#000"/><text x="384.4" y="493.6" word-spacing="-0.6">4 Feb 23:00</text>
<rect class="crisp" x="449" y="482" width="1" height="3" fill="#000"/><text x="448.4" y="493.6" word-spacing="-0.6">7 Feb 15:00</text>
<rect class="crisp" x="513" y="482" width="1" height="3" fill="#000"/><text x="512.4" y="493.6" word-spacing="-0.6">12 Feb 07:00</text>
<rect class="crisp" x="577" y="482" width="1" height="3" fill="#000"/><text x="576.4" y="493.6" word-spacing="-0.6">14 Feb 23:00</text>
</g>
</svg>
</body></html>
